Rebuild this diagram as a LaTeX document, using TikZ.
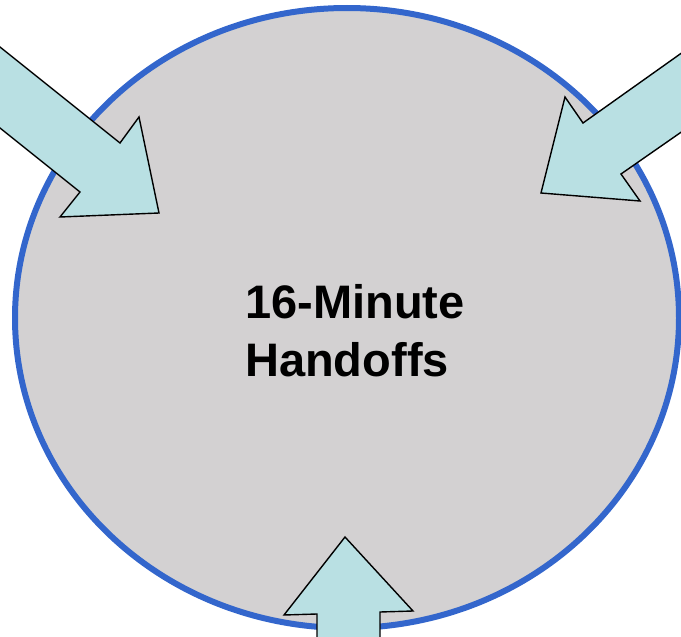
\documentclass[tikz,border=0pt]{standalone}
\usepackage{fontspec}
\setmainfont{Liberation Sans}
\usetikzlibrary{shapes.geometric}
\definecolor{diskfill}{RGB}{211,209,210}
\definecolor{diskline}{RGB}{51,102,204}
\definecolor{arrowfill}{RGB}{185,224,227}
\tikzset{
  disk/.style={draw=diskline, fill=diskfill, line width=6pt},
  bigarrow/.style={draw=black, fill=arrowfill, line width=1.4pt, line join=miter},
  title/.style={font=\bfseries\fontsize{47}{58}\selectfont, align=left, anchor=north west, inner sep=0pt},
}
\begin{document}
\begin{tikzpicture}[x=1pt,y=-1pt]
\useasboundingbox (0,0) rectangle (681,637);
\begin{scope}
\clip (0,0) rectangle (681,637);
\draw[disk] (347,318) ellipse [x radius=332, y radius=310];
\coordinate (c) at (347,318);
% left arrow
\draw[bigarrow] (-10,39) -- (120,143) -- (139,117) -- (159,213) -- (60,217) -- (80,192) -- (-10,120) -- cycle;
% right arrow
\draw[bigarrow] (690,47) -- (583,123) -- (565,97) -- (541,193) -- (640,201) -- (621,174) -- (690,126) -- cycle;
% bottom arrow
\draw[bigarrow] (317,645) -- (317,614) -- (284,615) -- (345,537) -- (413,611) -- (380,612) -- (380,645) -- cycle;
\end{scope}
\node[title] (label) at (245,284) {16-Minute\\Handoffs};
\end{tikzpicture}
\end{document}
